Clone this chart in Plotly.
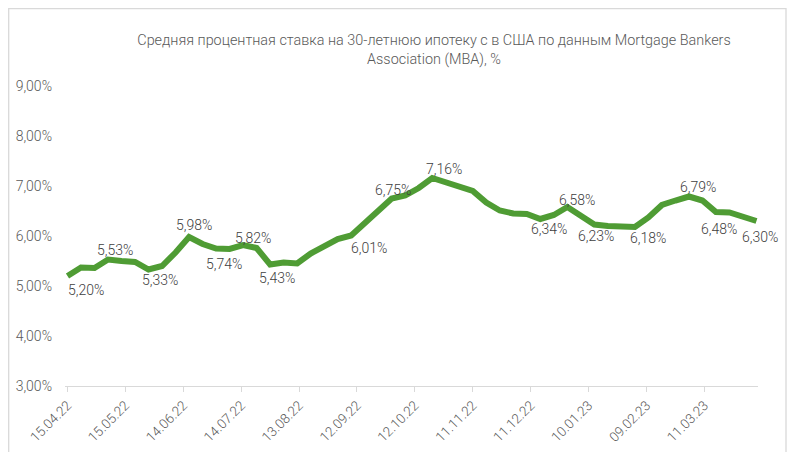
import datetime as dt
import plotly.graph_objects as go

# ---- data ----
start_date = dt.date(2022, 4, 15)
dates = [start_date + dt.timedelta(days=7 * i) for i in range(52)]
rates = [5.20, 5.37, 5.36, 5.53, 5.50, 5.48, 5.33, 5.40, 5.67, 5.98,
         5.84, 5.75, 5.74, 5.82, 5.76, 5.43, 5.47, 5.45, 5.65, 5.80,
         5.94, 6.01, 6.25, 6.52, 6.75, 6.81, 6.96, 7.16, 7.07, 6.99,
         6.90, 6.67, 6.51, 6.45, 6.44, 6.34, 6.42, 6.58, 6.42, 6.23,
         6.20, 6.19, 6.18, 6.37, 6.62, 6.71, 6.79, 6.71, 6.48, 6.47,
         6.40, 6.30]

tick_dates = [start_date + dt.timedelta(days=30 * k) for k in range(12)]
tick_labels = [d.strftime("%d.%m.%y") for d in tick_dates]

y_ticks = [3, 4, 5, 6, 7, 8, 9]
y_labels = [f"{v:.2f}%".replace(".", ",") for v in y_ticks]

# labelled points: index, x-shift, y-shift (pixels)
label_idx = [0, 3, 6, 9, 12, 13, 15, 21, 24, 27, 35, 37, 39, 42, 46, 48, 51]
label_dx = [19, 7, 11, 5, -6, 10, 7, 18, 1, 12, 9, 10, 2, 13, 9, 3, 4]
label_dy = [-14, 10, -10, 12, -15, 7, -13, -12, 9, 9, -10, 7, -11, -11, 10, -17, -16]

title_text = ("Средняя процентная ставка на 30-летнюю ипотеку с в США по данным Mortgage Bankers"
              "<br>Association (MBA), %")

FONT = "Roboto, Lato, sans-serif"

# page body has an 8px margin, so figure coords = screen coords - 8
L, R, T, B = 57, 45, 78, 74
PW, PH = 795 - L - R, 452 - T - B

fig = go.Figure()
fig.add_trace(go.Scatter(
    x=dates, y=rates, mode="lines",
    line=dict(color="#4f9c34", width=6, shape="linear"),
    hoverinfo="x+y", showlegend=False,
))

annotations = []
for i, dx, dy in zip(label_idx, label_dx, label_dy):
    annotations.append(dict(
        x=dates[i], y=rates[i], xref="x", yref="y",
        text=f"{rates[i]:.2f}%".replace(".", ","),
        showarrow=False, xanchor="center", yanchor="middle",
        xshift=dx, yshift=dy,
        font=dict(family=FONT, size=14, color="#404040", weight=300),
    ))

fig.update_layout(
    width=795, height=452,
    margin=dict(l=L, r=R, t=T, b=B, autoexpand=False),
    paper_bgcolor="white", plot_bgcolor="white",
    font=dict(family=FONT, color="#595959", size=14, weight=300),
    title=dict(
        text=title_text, x=426 / 795, xanchor="center",
        y=1 - 37 / 452, yanchor="middle",
        font=dict(family=FONT, size=14.4, color="#595959", weight=300),
    ),
    xaxis=dict(
        type="date", automargin=False,
        range=["2022-04-13 17:00", "2023-04-07 19:00"],
        tickvals=tick_dates, ticktext=tick_labels, tickangle=-45,
        showgrid=False, zeroline=False,
        showline=True, linecolor="#d9d9d9", linewidth=1.3,
        ticks="outside", ticklen=5, tickcolor="#d9d9d9", tickwidth=1.3,
        tickfont=dict(family=FONT, size=13.5, color="#595959", weight=300),
    ),
    yaxis=dict(
        range=[3, 9], tickvals=y_ticks, ticktext=y_labels, automargin=False,
        showgrid=False, zeroline=False, showline=False,
        ticks="", ticklabelstandoff=12,
        tickfont=dict(family=FONT, size=14, color="#595959", weight=300),
    ),
    annotations=annotations,
    shapes=[dict(
        type="rect", xref="paper", yref="paper",
        x0=(0.7 - L) / PW, x1=(778 - L) / PW,
        y0=(PH + T - 470) / PH, y1=(PH + T - 0.7) / PH,
        line=dict(color="#d9d9d9", width=1.3), fillcolor="rgba(0,0,0,0)",
        layer="below",
    )],
)

fig.write_html("out.html")
